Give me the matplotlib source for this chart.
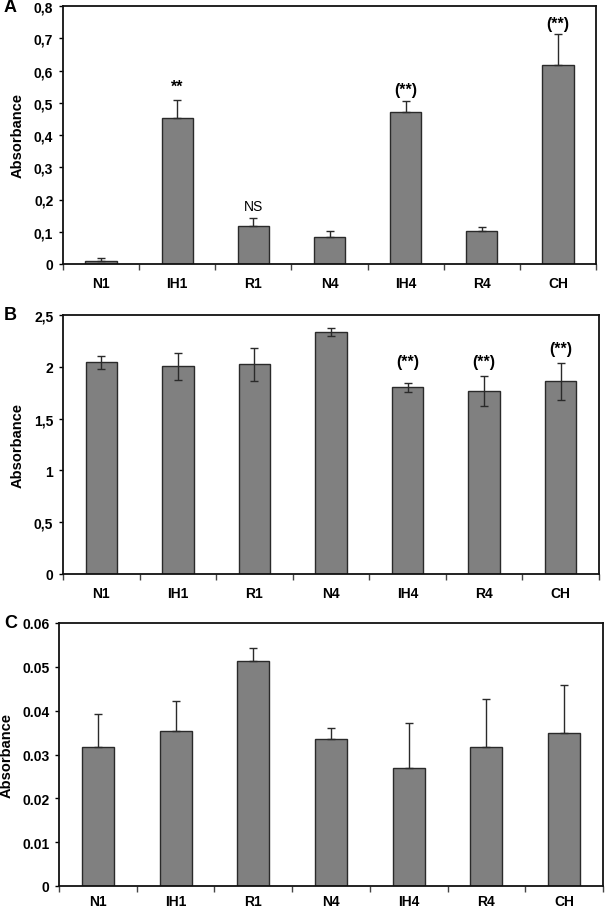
import matplotlib
matplotlib.use("Agg")
import matplotlib.pyplot as plt
import numpy as np

plt.rcParams['font.family'] = ['Liberation Sans', 'DejaVu Sans']

groups = ["N1", "IH1", "R1", "N4", "IH4", "R4", "CH"]

# panel A
a_vals = [0.010, 0.452, 0.117, 0.084, 0.471, 0.103, 0.617]
a_err = [0.008, 0.056, 0.026, 0.019, 0.034, 0.013, 0.097]
a_marks = ["", "**", "NS", "", "(**)", "", "(**)"]
a_mark_y = [0, 0.55, 0.18, 0, 0.54, 0, 0.745]

# panel B
b_vals = [2.042, 2.003, 2.026, 2.333, 1.801, 1.769, 1.859]
b_err = [0.065, 0.135, 0.160, 0.040, 0.045, 0.145, 0.180]
b_marks = ["", "", "", "", "(**)", "(**)", "(**)"]
b_mark_y = [0, 0, 0, 0, 2.05, 2.05, 2.18]

# panel C
c_vals = [0.0316, 0.0353, 0.0513, 0.0336, 0.0269, 0.0316, 0.0350]
c_err = [0.0076, 0.0069, 0.0030, 0.0024, 0.0102, 0.0111, 0.0108]

a_ticks = [0, 0.1, 0.2, 0.3, 0.4, 0.5, 0.6, 0.7, 0.8]
a_ticklabels = ["0", "0,1", "0,2", "0,3", "0,4", "0,5", "0,6", "0,7", "0,8"]
b_ticks = [0, 0.5, 1, 1.5, 2, 2.5]
b_ticklabels = ["0", "0,5", "1", "1,5", "2", "2,5"]
c_ticks = [0, 0.01, 0.02, 0.03, 0.04, 0.05, 0.06]
c_ticklabels = ["0", "0.01", "0.02", "0.03", "0.04", "0.05", "0.06"]

W, H = 605, 912
fig = plt.figure(figsize=(W / 100, H / 100), dpi=100)


def px_axes(left, top, right, bottom):
    return fig.add_axes([left / W, 1 - bottom / H, (right - left) / W, (bottom - top) / H])


def draw_panel(ax, vals, err, both, ticks, ticklabels, ymax, letter, label_x, xpad):
    x = np.arange(len(groups))
    if both:
        yerr = [err, err]
    else:
        yerr = [np.zeros(len(err)), err]
    ax.bar(x, vals, width=0.41, color="#808080", edgecolor="#2a2a2a", linewidth=1.0,
           yerr=yerr, capsize=3.2, error_kw=dict(ecolor="#2a2a2a", elinewidth=1.0, capthick=1.0),
           zorder=2)
    ax.set_xlim(-0.5, len(groups) - 0.5)
    ax.set_ylim(0, ymax)
    ax.set_yticks(ticks)
    ax.set_yticklabels(ticklabels, fontsize=10, fontweight="bold")
    ax.set_xticks(np.arange(len(groups) + 1) - 0.5)
    ax.set_xticklabels([])
    ax.set_xticks(x, minor=True)
    ax.set_xticklabels(groups, minor=True, fontsize=10, fontweight="bold")
    ax.tick_params(axis="x", which="major", direction="out", length=4, width=1, color="#444444")
    ax.tick_params(axis="x", which="minor", length=0, pad=xpad)
    ax.tick_params(axis="y", direction="out", length=3, width=1, pad=4)
    for s in ax.spines.values():
        s.set_linewidth(1.3)
        s.set_color("#111111")
    ax.set_ylabel("Absorbance", fontsize=10.5, fontweight="bold")
    pos = ax.get_position()
    ax.yaxis.set_label_coords((label_x / W - pos.x0) / pos.width, 0.5)
    ax.text((4 / W - pos.x0) / pos.width, 1.0, letter, transform=ax.transAxes, fontsize=13,
            fontweight="bold", ha="left", va="center")


ax_a = px_axes(63, 7, 596, 265)
draw_panel(ax_a, a_vals, a_err, False, a_ticks, a_ticklabels, 0.8, "A", 25, 9)
for i, m in enumerate(a_marks):
    if m:
        ax_a.text(i, a_mark_y[i], m, ha="center", va="center", fontsize=11.5 if m != "NS" else 10,
                  fontweight="normal" if m == "NS" else "bold")

ax_b = px_axes(63, 316, 599, 575)
draw_panel(ax_b, b_vals, b_err, True, b_ticks, b_ticklabels, 2.5, "B", 25, 9)
for i, m in enumerate(b_marks):
    if m:
        ax_b.text(i, b_mark_y[i], m, ha="center", va="center", fontsize=11.5, fontweight="bold")

ax_c = px_axes(59, 624, 603, 887)
draw_panel(ax_c, c_vals, c_err, False, c_ticks, c_ticklabels, 0.06, "C", 14, 6)

fig.savefig("out.png", dpi=100)
